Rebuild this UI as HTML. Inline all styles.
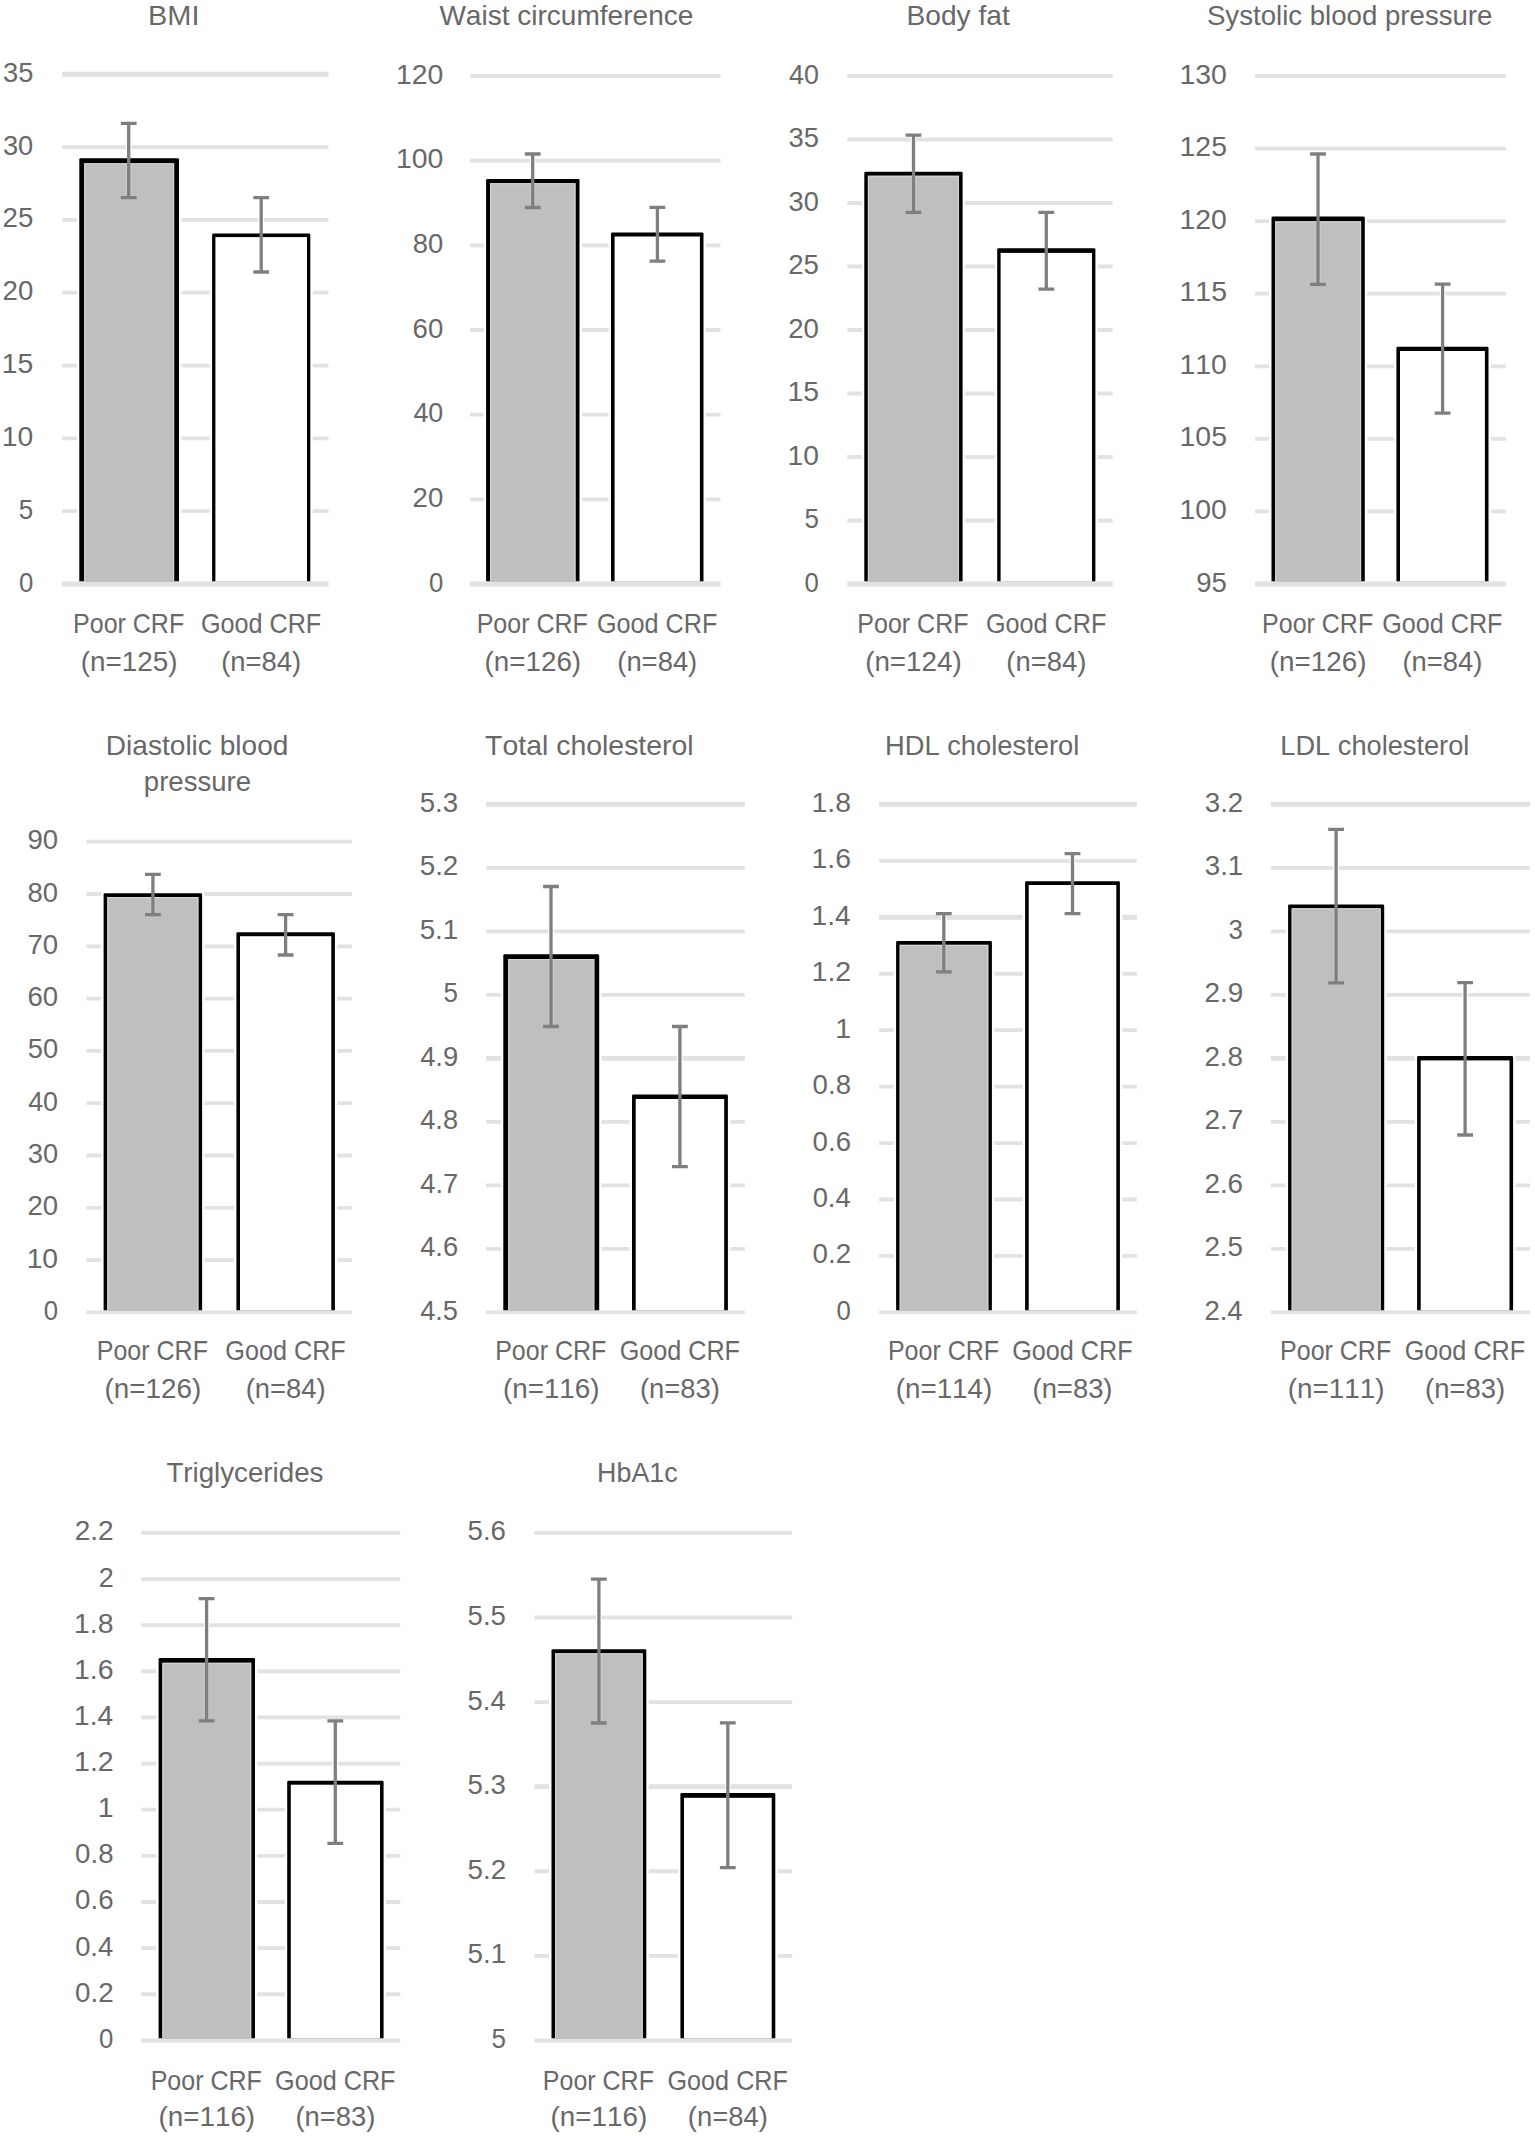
<!DOCTYPE html>
<html lang="en"><head><meta charset="utf-8"><title>Cardiometabolic risk factors by CRF group</title>
<style>
html,body{margin:0;padding:0;background:#fff}
svg{display:block}
text{font-family:"Liberation Sans",sans-serif;font-size:28px;fill:#686868;font-kerning:none}
.g{stroke:#e2e2e2;fill:none}
.e{stroke:#7f7f7f;stroke-width:3.3;fill:none}
.h{stroke:#fff;stroke-width:5.6;fill:none}
.w{fill:#fff}
.r{stroke:#d6d6d6;stroke-width:1.1;fill:none}
.f{stroke:#fff;stroke-opacity:.13;stroke-width:6;fill:none}
.k{fill:#000}
</style></head><body>
<svg width="1535" height="2136" viewBox="0 0 1535 2136">
<rect width="1535" height="2136" fill="#fff"/>
<g>
<line class="g" x1="62" x2="328.5" y1="511.18" y2="511.18" stroke-width="3.8"/>
<line class="g" x1="62" x2="328.5" y1="438.36" y2="438.36" stroke-width="3.8"/>
<line class="g" x1="62" x2="328.5" y1="365.54" y2="365.54" stroke-width="3.8"/>
<line class="g" x1="62" x2="328.5" y1="292.71" y2="292.71" stroke-width="3.8"/>
<line class="g" x1="62" x2="328.5" y1="219.89" y2="219.89" stroke-width="3.8"/>
<line class="g" x1="62" x2="328.5" y1="147.07" y2="147.07" stroke-width="3.8"/>
<line class="g" x1="62" x2="328.5" y1="74.25" y2="74.25" stroke-width="4.9"/>
<path class="h" d="M128.7 123.4 V197.7"/>
<path class="h" d="M261.2 197.6 V272"/>
<rect class="w" x="76.9" y="155.9" width="104.5" height="425.65"/>
<rect class="w" x="209.7" y="231.2" width="103" height="350.35"/>
<path class="k" d="M79.3 581.55 V159.6 Q79.3 158.3 80.6 158.3 H177.7 Q179 158.3 179 159.6 V581.55 Z"/>
<rect x="84.2" y="163.3" width="89.9" height="418.25" fill="#bfbfbf"/>
<path class="r" d="M84.7 581.55 V163.8 H173.6 V581.55"/>
<path class="k" d="M212.1 581.55 V234.9 Q212.1 233.6 213.4 233.6 H309 Q310.3 233.6 310.3 234.9 V581.55 Z"/>
<rect x="215.4" y="237.1" width="91.6" height="344.45" fill="#fff"/>
<line class="g" x1="62" x2="328.5" y1="584" y2="584" stroke-width="4.9"/>
<path class="f" d="M128.7 163.3 V197.7"/>
<path class="e" d="M128.7 123.4 V197.7 M120.8 123.4 H136.6 M120.8 197.7 H136.6"/>
<path class="e" d="M261.2 197.6 V272 M253.3 197.6 H269.1 M253.3 272 H269.1"/>
<text x="148.03" y="24.7" textLength="51.44" lengthAdjust="spacingAndGlyphs">BMI</text>
<text x="18.89" y="591.5" textLength="14.31" lengthAdjust="spacingAndGlyphs">0</text>
<text x="18.86" y="518.68" textLength="14.43" lengthAdjust="spacingAndGlyphs">5</text>
<text x="1.85" y="445.86" textLength="31.46" lengthAdjust="spacingAndGlyphs">10</text>
<text x="1.84" y="373.04" textLength="31.55" lengthAdjust="spacingAndGlyphs">15</text>
<text x="2.61" y="300.21" textLength="30.66" lengthAdjust="spacingAndGlyphs">20</text>
<text x="2.61" y="227.39" textLength="30.75" lengthAdjust="spacingAndGlyphs">25</text>
<text x="2.96" y="154.57" textLength="30.3" lengthAdjust="spacingAndGlyphs">30</text>
<text x="2.96" y="81.75" textLength="30.39" lengthAdjust="spacingAndGlyphs">35</text>
<text x="73.05" y="632.7" textLength="111.15" lengthAdjust="spacingAndGlyphs">Poor CRF</text>
<text x="80.83" y="670.6" textLength="96.65" lengthAdjust="spacingAndGlyphs">(n=125)</text>
<text x="200.88" y="632.7" textLength="120.38" lengthAdjust="spacingAndGlyphs">Good CRF</text>
<text x="221.2" y="670.6" textLength="80" lengthAdjust="spacingAndGlyphs">(n=84)</text>
</g>
<g>
<line class="g" x1="470" x2="720.5" y1="499.33" y2="499.33" stroke-width="3.8"/>
<line class="g" x1="470" x2="720.5" y1="414.67" y2="414.67" stroke-width="3.8"/>
<line class="g" x1="470" x2="720.5" y1="330" y2="330" stroke-width="3.8"/>
<line class="g" x1="470" x2="720.5" y1="245.33" y2="245.33" stroke-width="3.8"/>
<line class="g" x1="470" x2="720.5" y1="160.67" y2="160.67" stroke-width="3.8"/>
<line class="g" x1="470" x2="720.5" y1="76" y2="76" stroke-width="3.8"/>
<path class="h" d="M532.7 154 V207.5"/>
<path class="h" d="M657.4 207.3 V261.1"/>
<rect class="w" x="483.7" y="176.6" width="98.2" height="404.95"/>
<rect class="w" x="608.6" y="230.1" width="97.3" height="351.45"/>
<path class="k" d="M486.1 581.55 V180.3 Q486.1 179 487.4 179 H578.2 Q579.5 179 579.5 180.3 V581.55 Z"/>
<rect x="490.1" y="183.2" width="85.4" height="398.35" fill="#bfbfbf"/>
<path class="r" d="M490.6 581.55 V183.7 H575 V581.55"/>
<path class="k" d="M611 581.55 V233.8 Q611 232.5 612.3 232.5 H702.2 Q703.5 232.5 703.5 233.8 V581.55 Z"/>
<rect x="614.6" y="236.5" width="85.3" height="345.05" fill="#fff"/>
<line class="g" x1="470" x2="720.5" y1="584" y2="584" stroke-width="4.9"/>
<path class="f" d="M532.7 183.2 V207.5"/>
<path class="e" d="M532.7 154 V207.5 M524.8 154 H540.6 M524.8 207.5 H540.6"/>
<path class="e" d="M657.4 207.3 V261.1 M649.5 207.3 H665.3 M649.5 261.1 H665.3"/>
<text x="439.38" y="24.8" textLength="253.97" lengthAdjust="spacingAndGlyphs">Waist circumference</text>
<text x="428.89" y="591.5" textLength="14.31" lengthAdjust="spacingAndGlyphs">0</text>
<text x="412.61" y="506.83" textLength="30.66" lengthAdjust="spacingAndGlyphs">20</text>
<text x="413.38" y="422.17" textLength="29.86" lengthAdjust="spacingAndGlyphs">40</text>
<text x="412.6" y="337.5" textLength="30.68" lengthAdjust="spacingAndGlyphs">60</text>
<text x="412.81" y="252.83" textLength="30.46" lengthAdjust="spacingAndGlyphs">80</text>
<text x="395.94" y="168.17" textLength="47.37" lengthAdjust="spacingAndGlyphs">100</text>
<text x="395.94" y="83.5" textLength="47.37" lengthAdjust="spacingAndGlyphs">120</text>
<text x="476.7" y="632.7" textLength="111.15" lengthAdjust="spacingAndGlyphs">Poor CRF</text>
<text x="484.48" y="670.6" textLength="96.65" lengthAdjust="spacingAndGlyphs">(n=126)</text>
<text x="596.93" y="632.7" textLength="120.38" lengthAdjust="spacingAndGlyphs">Good CRF</text>
<text x="617.25" y="670.6" textLength="80" lengthAdjust="spacingAndGlyphs">(n=84)</text>
</g>
<g>
<line class="g" x1="847.3" x2="1112.7" y1="520.5" y2="520.5" stroke-width="3.8"/>
<line class="g" x1="847.3" x2="1112.7" y1="457" y2="457" stroke-width="3.8"/>
<line class="g" x1="847.3" x2="1112.7" y1="393.5" y2="393.5" stroke-width="3.8"/>
<line class="g" x1="847.3" x2="1112.7" y1="330" y2="330" stroke-width="3.8"/>
<line class="g" x1="847.3" x2="1112.7" y1="266.5" y2="266.5" stroke-width="3.8"/>
<line class="g" x1="847.3" x2="1112.7" y1="203" y2="203" stroke-width="3.8"/>
<line class="g" x1="847.3" x2="1112.7" y1="139.5" y2="139.5" stroke-width="3.8"/>
<line class="g" x1="847.3" x2="1112.7" y1="76" y2="76" stroke-width="3.8"/>
<path class="h" d="M913.5 135.2 V212.4"/>
<path class="h" d="M1046.3 212.4 V289.2"/>
<rect class="w" x="861.9" y="169.3" width="103.1" height="412.25"/>
<rect class="w" x="994.8" y="245.9" width="103" height="335.65"/>
<path class="k" d="M864.3 581.55 V173 Q864.3 171.7 865.6 171.7 H961.3 Q962.6 171.7 962.6 173 V581.55 Z"/>
<rect x="867.9" y="175.7" width="91.1" height="405.85" fill="#bfbfbf"/>
<path class="r" d="M868.4 581.55 V176.2 H958.5 V581.55"/>
<path class="k" d="M997.2 581.55 V249.6 Q997.2 248.3 998.5 248.3 H1094.1 Q1095.4 248.3 1095.4 249.6 V581.55 Z"/>
<rect x="1000.6" y="252.9" width="91.4" height="328.65" fill="#fff"/>
<line class="g" x1="847.3" x2="1112.7" y1="584" y2="584" stroke-width="4.9"/>
<path class="f" d="M913.5 175.7 V212.4"/>
<path class="e" d="M913.5 135.2 V212.4 M905.6 135.2 H921.4 M905.6 212.4 H921.4"/>
<path class="e" d="M1046.3 212.4 V289.2 M1038.4 212.4 H1054.2 M1038.4 289.2 H1054.2"/>
<text x="906.49" y="24.7" textLength="103.21" lengthAdjust="spacingAndGlyphs">Body fat</text>
<text x="804.49" y="591.5" textLength="14.31" lengthAdjust="spacingAndGlyphs">0</text>
<text x="804.46" y="528" textLength="14.43" lengthAdjust="spacingAndGlyphs">5</text>
<text x="787.45" y="464.5" textLength="31.46" lengthAdjust="spacingAndGlyphs">10</text>
<text x="787.44" y="401" textLength="31.55" lengthAdjust="spacingAndGlyphs">15</text>
<text x="788.21" y="337.5" textLength="30.66" lengthAdjust="spacingAndGlyphs">20</text>
<text x="788.21" y="274" textLength="30.75" lengthAdjust="spacingAndGlyphs">25</text>
<text x="788.56" y="210.5" textLength="30.3" lengthAdjust="spacingAndGlyphs">30</text>
<text x="788.56" y="147" textLength="30.39" lengthAdjust="spacingAndGlyphs">35</text>
<text x="788.98" y="83.5" textLength="29.86" lengthAdjust="spacingAndGlyphs">40</text>
<text x="857.35" y="632.7" textLength="111.15" lengthAdjust="spacingAndGlyphs">Poor CRF</text>
<text x="865.13" y="670.6" textLength="96.65" lengthAdjust="spacingAndGlyphs">(n=124)</text>
<text x="985.98" y="632.7" textLength="120.38" lengthAdjust="spacingAndGlyphs">Good CRF</text>
<text x="1006.3" y="670.6" textLength="80" lengthAdjust="spacingAndGlyphs">(n=84)</text>
</g>
<g>
<line class="g" x1="1255" x2="1505.9" y1="511.43" y2="511.43" stroke-width="3.8"/>
<line class="g" x1="1255" x2="1505.9" y1="438.86" y2="438.86" stroke-width="3.8"/>
<line class="g" x1="1255" x2="1505.9" y1="366.29" y2="366.29" stroke-width="3.8"/>
<line class="g" x1="1255" x2="1505.9" y1="293.71" y2="293.71" stroke-width="3.8"/>
<line class="g" x1="1255" x2="1505.9" y1="221.14" y2="221.14" stroke-width="3.8"/>
<line class="g" x1="1255" x2="1505.9" y1="148.57" y2="148.57" stroke-width="3.8"/>
<line class="g" x1="1255" x2="1505.9" y1="76" y2="76" stroke-width="3.8"/>
<path class="h" d="M1318 154 V284.3"/>
<path class="h" d="M1442.6 284.1 V413.1"/>
<rect class="w" x="1269.1" y="214" width="98.1" height="367.55"/>
<rect class="w" x="1394" y="344.4" width="96.9" height="237.15"/>
<path class="k" d="M1271.5 581.55 V217.7 Q1271.5 216.4 1272.8 216.4 H1363.5 Q1364.8 216.4 1364.8 217.7 V581.55 Z"/>
<rect x="1275.2" y="221.4" width="85.9" height="360.15" fill="#bfbfbf"/>
<path class="r" d="M1275.7 581.55 V221.9 H1360.6 V581.55"/>
<path class="k" d="M1396.4 581.55 V348.1 Q1396.4 346.8 1397.7 346.8 H1487.2 Q1488.5 346.8 1488.5 348.1 V581.55 Z"/>
<rect x="1400" y="351" width="84.9" height="230.55" fill="#fff"/>
<line class="g" x1="1255" x2="1505.9" y1="584" y2="584" stroke-width="4.9"/>
<path class="f" d="M1318 221.4 V284.3"/>
<path class="e" d="M1318 154 V284.3 M1310.1 154 H1325.9 M1310.1 284.3 H1325.9"/>
<path class="e" d="M1442.6 284.1 V413.1 M1434.7 284.1 H1450.5 M1434.7 413.1 H1450.5"/>
<text x="1206.95" y="24.8" textLength="285.48" lengthAdjust="spacingAndGlyphs">Systolic blood pressure</text>
<text x="1196.31" y="591.5" textLength="30.65" lengthAdjust="spacingAndGlyphs">95</text>
<text x="1179.54" y="518.93" textLength="47.37" lengthAdjust="spacingAndGlyphs">100</text>
<text x="1179.53" y="446.36" textLength="47.46" lengthAdjust="spacingAndGlyphs">105</text>
<text x="1179.54" y="373.79" textLength="47.37" lengthAdjust="spacingAndGlyphs">110</text>
<text x="1179.53" y="301.21" textLength="47.46" lengthAdjust="spacingAndGlyphs">115</text>
<text x="1179.54" y="228.64" textLength="47.37" lengthAdjust="spacingAndGlyphs">120</text>
<text x="1179.53" y="156.07" textLength="47.46" lengthAdjust="spacingAndGlyphs">125</text>
<text x="1179.54" y="83.5" textLength="47.37" lengthAdjust="spacingAndGlyphs">130</text>
<text x="1262.05" y="632.7" textLength="111.15" lengthAdjust="spacingAndGlyphs">Poor CRF</text>
<text x="1269.83" y="670.6" textLength="96.65" lengthAdjust="spacingAndGlyphs">(n=126)</text>
<text x="1382.13" y="632.7" textLength="120.38" lengthAdjust="spacingAndGlyphs">Good CRF</text>
<text x="1402.45" y="670.6" textLength="80" lengthAdjust="spacingAndGlyphs">(n=84)</text>
</g>
<g>
<line class="g" x1="86.5" x2="351.9" y1="1260.1" y2="1260.1" stroke-width="3.8"/>
<line class="g" x1="86.5" x2="351.9" y1="1207.8" y2="1207.8" stroke-width="3.8"/>
<line class="g" x1="86.5" x2="351.9" y1="1155.5" y2="1155.5" stroke-width="3.8"/>
<line class="g" x1="86.5" x2="351.9" y1="1103.2" y2="1103.2" stroke-width="3.8"/>
<line class="g" x1="86.5" x2="351.9" y1="1050.9" y2="1050.9" stroke-width="3.8"/>
<line class="g" x1="86.5" x2="351.9" y1="998.6" y2="998.6" stroke-width="3.8"/>
<line class="g" x1="86.5" x2="351.9" y1="946.3" y2="946.3" stroke-width="3.8"/>
<line class="g" x1="86.5" x2="351.9" y1="894" y2="894" stroke-width="3.8"/>
<line class="g" x1="86.5" x2="351.9" y1="841.7" y2="841.7" stroke-width="3.8"/>
<path class="h" d="M152.9 874.3 V914.6"/>
<path class="h" d="M285.6 914.6 V955"/>
<rect class="w" x="101.2" y="890.9" width="103.3" height="419.6"/>
<rect class="w" x="234" y="929.8" width="103.3" height="380.7"/>
<path class="k" d="M103.6 1310.5 V894.6 Q103.6 893.3 104.9 893.3 H200.8 Q202.1 893.3 202.1 894.6 V1310.5 Z"/>
<rect x="107.3" y="897.1" width="91.1" height="413.4" fill="#bfbfbf"/>
<path class="r" d="M107.8 1310.5 V897.6 H197.9 V1310.5"/>
<path class="k" d="M236.4 1310.5 V933.5 Q236.4 932.2 237.7 932.2 H333.6 Q334.9 932.2 334.9 933.5 V1310.5 Z"/>
<rect x="240" y="936.2" width="91.3" height="374.3" fill="#fff"/>
<line class="g" x1="86.5" x2="351.9" y1="1312.4" y2="1312.4" stroke-width="3.8"/>
<path class="f" d="M152.9 897.1 V914.6"/>
<path class="e" d="M152.9 874.3 V914.6 M145 874.3 H160.8 M145 914.6 H160.8"/>
<path class="e" d="M285.6 914.6 V955 M277.7 914.6 H293.5 M277.7 955 H293.5"/>
<text x="105.8" y="754.7" textLength="182.61" lengthAdjust="spacingAndGlyphs">Diastolic blood</text>
<text x="143.82" y="791" textLength="107.2" lengthAdjust="spacingAndGlyphs">pressure</text>
<text x="43.69" y="1319.9" textLength="14.31" lengthAdjust="spacingAndGlyphs">0</text>
<text x="26.65" y="1267.6" textLength="31.46" lengthAdjust="spacingAndGlyphs">10</text>
<text x="27.41" y="1215.3" textLength="30.66" lengthAdjust="spacingAndGlyphs">20</text>
<text x="27.76" y="1163" textLength="30.3" lengthAdjust="spacingAndGlyphs">30</text>
<text x="28.18" y="1110.7" textLength="29.86" lengthAdjust="spacingAndGlyphs">40</text>
<text x="27.71" y="1058.4" textLength="30.36" lengthAdjust="spacingAndGlyphs">50</text>
<text x="27.4" y="1006.1" textLength="30.68" lengthAdjust="spacingAndGlyphs">60</text>
<text x="27.39" y="953.8" textLength="30.69" lengthAdjust="spacingAndGlyphs">70</text>
<text x="27.61" y="901.5" textLength="30.46" lengthAdjust="spacingAndGlyphs">80</text>
<text x="27.51" y="849.2" textLength="30.56" lengthAdjust="spacingAndGlyphs">90</text>
<text x="96.75" y="1360.2" textLength="111.15" lengthAdjust="spacingAndGlyphs">Poor CRF</text>
<text x="104.53" y="1398.4" textLength="96.65" lengthAdjust="spacingAndGlyphs">(n=126)</text>
<text x="225.33" y="1360.2" textLength="120.38" lengthAdjust="spacingAndGlyphs">Good CRF</text>
<text x="245.65" y="1398.4" textLength="80" lengthAdjust="spacingAndGlyphs">(n=84)</text>
</g>
<g>
<line class="g" x1="486" x2="744.9" y1="1248.9" y2="1248.9" stroke-width="3.8"/>
<line class="g" x1="486" x2="744.9" y1="1185.4" y2="1185.4" stroke-width="3.8"/>
<line class="g" x1="486" x2="744.9" y1="1121.9" y2="1121.9" stroke-width="3.8"/>
<line class="g" x1="486" x2="744.9" y1="1058.4" y2="1058.4" stroke-width="4.9"/>
<line class="g" x1="486" x2="744.9" y1="994.9" y2="994.9" stroke-width="3.8"/>
<line class="g" x1="486" x2="744.9" y1="931.4" y2="931.4" stroke-width="3.8"/>
<line class="g" x1="486" x2="744.9" y1="867.9" y2="867.9" stroke-width="3.8"/>
<line class="g" x1="486" x2="744.9" y1="804.4" y2="804.4" stroke-width="4.9"/>
<path class="h" d="M551 886.5 V1026.5"/>
<path class="h" d="M679.9 1026.5 V1166.6"/>
<rect class="w" x="500.9" y="951.8" width="100.7" height="358.7"/>
<rect class="w" x="629.6" y="1092" width="100.7" height="218.5"/>
<path class="k" d="M503.3 1310.5 V955.5 Q503.3 954.2 504.6 954.2 H597.9 Q599.2 954.2 599.2 955.5 V1310.5 Z"/>
<rect x="508.2" y="959" width="86.1" height="351.5" fill="#bfbfbf"/>
<path class="r" d="M508.7 1310.5 V959.5 H593.8 V1310.5"/>
<path class="k" d="M632 1310.5 V1095.7 Q632 1094.4 633.3 1094.4 H726.6 Q727.9 1094.4 727.9 1095.7 V1310.5 Z"/>
<rect x="635.7" y="1099" width="88.5" height="211.5" fill="#fff"/>
<line class="g" x1="486" x2="744.9" y1="1312.4" y2="1312.4" stroke-width="3.8"/>
<path class="f" d="M551 959 V1026.5"/>
<path class="e" d="M551 886.5 V1026.5 M543.1 886.5 H558.9 M543.1 1026.5 H558.9"/>
<path class="e" d="M679.9 1026.5 V1166.6 M672 1026.5 H687.8 M672 1166.6 H687.8"/>
<text x="485.06" y="754.7" textLength="208.64" lengthAdjust="spacingAndGlyphs">Total cholesterol</text>
<text x="420.17" y="1319.9" textLength="37.87" lengthAdjust="spacingAndGlyphs">4.5</text>
<text x="420.17" y="1256.4" textLength="37.92" lengthAdjust="spacingAndGlyphs">4.6</text>
<text x="420.17" y="1192.9" textLength="38.11" lengthAdjust="spacingAndGlyphs">4.7</text>
<text x="420.17" y="1129.4" textLength="37.91" lengthAdjust="spacingAndGlyphs">4.8</text>
<text x="420.17" y="1065.9" textLength="38.02" lengthAdjust="spacingAndGlyphs">4.9</text>
<text x="443.56" y="1002.4" textLength="14.43" lengthAdjust="spacingAndGlyphs">5</text>
<text x="419.69" y="938.9" textLength="38.57" lengthAdjust="spacingAndGlyphs">5.1</text>
<text x="419.69" y="875.4" textLength="38.61" lengthAdjust="spacingAndGlyphs">5.2</text>
<text x="419.69" y="811.9" textLength="38.42" lengthAdjust="spacingAndGlyphs">5.3</text>
<text x="495.15" y="1360.2" textLength="111.15" lengthAdjust="spacingAndGlyphs">Poor CRF</text>
<text x="502.93" y="1398.4" textLength="96.65" lengthAdjust="spacingAndGlyphs">(n=116)</text>
<text x="619.63" y="1360.2" textLength="120.38" lengthAdjust="spacingAndGlyphs">Good CRF</text>
<text x="639.95" y="1398.4" textLength="80" lengthAdjust="spacingAndGlyphs">(n=83)</text>
</g>
<g>
<line class="g" x1="879.1" x2="1136.9" y1="1255.96" y2="1255.96" stroke-width="3.8"/>
<line class="g" x1="879.1" x2="1136.9" y1="1199.51" y2="1199.51" stroke-width="3.8"/>
<line class="g" x1="879.1" x2="1136.9" y1="1143.07" y2="1143.07" stroke-width="3.8"/>
<line class="g" x1="879.1" x2="1136.9" y1="1086.62" y2="1086.62" stroke-width="3.8"/>
<line class="g" x1="879.1" x2="1136.9" y1="1030.18" y2="1030.18" stroke-width="3.8"/>
<line class="g" x1="879.1" x2="1136.9" y1="973.73" y2="973.73" stroke-width="3.8"/>
<line class="g" x1="879.1" x2="1136.9" y1="917.29" y2="917.29" stroke-width="4.9"/>
<line class="g" x1="879.1" x2="1136.9" y1="860.84" y2="860.84" stroke-width="3.8"/>
<line class="g" x1="879.1" x2="1136.9" y1="804.4" y2="804.4" stroke-width="4.9"/>
<path class="h" d="M943.8 913.6 V971.9"/>
<path class="h" d="M1072.5 853.7 V913.6"/>
<rect class="w" x="893.7" y="938.5" width="100.6" height="372"/>
<rect class="w" x="1022.7" y="878.9" width="99.6" height="431.6"/>
<path class="k" d="M896.1 1310.5 V942.2 Q896.1 940.9 897.4 940.9 H990.6 Q991.9 940.9 991.9 942.2 V1310.5 Z"/>
<rect x="899.7" y="944.9" width="88.6" height="365.6" fill="#bfbfbf"/>
<path class="r" d="M900.2 1310.5 V945.4 H987.8 V1310.5"/>
<path class="k" d="M1025.1 1310.5 V882.6 Q1025.1 881.3 1026.4 881.3 H1118.6 Q1119.9 881.3 1119.9 882.6 V1310.5 Z"/>
<rect x="1028.7" y="885" width="87.6" height="425.5" fill="#fff"/>
<line class="g" x1="879.1" x2="1136.9" y1="1312.4" y2="1312.4" stroke-width="3.8"/>
<path class="f" d="M943.8 944.9 V971.9"/>
<path class="e" d="M943.8 913.6 V971.9 M935.9 913.6 H951.7 M935.9 971.9 H951.7"/>
<path class="e" d="M1072.5 853.7 V913.6 M1064.6 853.7 H1080.4 M1064.6 913.6 H1080.4"/>
<text x="884.96" y="754.7" textLength="194.37" lengthAdjust="spacingAndGlyphs">HDL cholesterol</text>
<text x="836.49" y="1319.9" textLength="14.31" lengthAdjust="spacingAndGlyphs">0</text>
<text x="812.62" y="1263.46" textLength="38.58" lengthAdjust="spacingAndGlyphs">0.2</text>
<text x="812.63" y="1207.01" textLength="37.97" lengthAdjust="spacingAndGlyphs">0.4</text>
<text x="812.62" y="1150.57" textLength="38.39" lengthAdjust="spacingAndGlyphs">0.6</text>
<text x="812.62" y="1094.12" textLength="38.38" lengthAdjust="spacingAndGlyphs">0.8</text>
<text x="835.33" y="1037.68" textLength="15.87" lengthAdjust="spacingAndGlyphs">1</text>
<text x="811.52" y="981.23" textLength="39.71" lengthAdjust="spacingAndGlyphs">1.2</text>
<text x="811.56" y="924.79" textLength="39.06" lengthAdjust="spacingAndGlyphs">1.4</text>
<text x="811.53" y="868.34" textLength="39.51" lengthAdjust="spacingAndGlyphs">1.6</text>
<text x="811.54" y="811.9" textLength="39.5" lengthAdjust="spacingAndGlyphs">1.8</text>
<text x="887.9" y="1360.2" textLength="111.15" lengthAdjust="spacingAndGlyphs">Poor CRF</text>
<text x="895.68" y="1398.4" textLength="96.65" lengthAdjust="spacingAndGlyphs">(n=114)</text>
<text x="1012.18" y="1360.2" textLength="120.38" lengthAdjust="spacingAndGlyphs">Good CRF</text>
<text x="1032.5" y="1398.4" textLength="80" lengthAdjust="spacingAndGlyphs">(n=83)</text>
</g>
<g>
<line class="g" x1="1270.9" x2="1530" y1="1248.89" y2="1248.89" stroke-width="3.8"/>
<line class="g" x1="1270.9" x2="1530" y1="1185.38" y2="1185.38" stroke-width="3.8"/>
<line class="g" x1="1270.9" x2="1530" y1="1121.86" y2="1121.86" stroke-width="3.8"/>
<line class="g" x1="1270.9" x2="1530" y1="1058.35" y2="1058.35" stroke-width="4.9"/>
<line class="g" x1="1270.9" x2="1530" y1="994.84" y2="994.84" stroke-width="3.8"/>
<line class="g" x1="1270.9" x2="1530" y1="931.33" y2="931.33" stroke-width="3.8"/>
<line class="g" x1="1270.9" x2="1530" y1="867.81" y2="867.81" stroke-width="3.8"/>
<line class="g" x1="1270.9" x2="1530" y1="804.3" y2="804.3" stroke-width="4.9"/>
<path class="h" d="M1336.1 829.3 V982.8"/>
<path class="h" d="M1465.1 982.6 V1135"/>
<rect class="w" x="1285.7" y="902" width="100.9" height="408.5"/>
<rect class="w" x="1414.7" y="1053.7" width="100.8" height="256.8"/>
<path class="k" d="M1288.1 1310.5 V905.7 Q1288.1 904.4 1289.4 904.4 H1382.9 Q1384.2 904.4 1384.2 905.7 V1310.5 Z"/>
<rect x="1291.7" y="908.3" width="88.9" height="402.2" fill="#bfbfbf"/>
<path class="r" d="M1292.2 1310.5 V908.8 H1380.1 V1310.5"/>
<path class="k" d="M1417.1 1310.5 V1057.4 Q1417.1 1056.1 1418.4 1056.1 H1511.8 Q1513.1 1056.1 1513.1 1057.4 V1310.5 Z"/>
<rect x="1420.7" y="1060.4" width="88.8" height="250.1" fill="#fff"/>
<line class="g" x1="1270.9" x2="1530" y1="1312.4" y2="1312.4" stroke-width="3.8"/>
<path class="f" d="M1336.1 908.3 V982.8"/>
<path class="e" d="M1336.1 829.3 V982.8 M1328.2 829.3 H1344 M1328.2 982.8 H1344"/>
<path class="e" d="M1465.1 982.6 V1135 M1457.2 982.6 H1473 M1457.2 1135 H1473"/>
<text x="1280.37" y="754.7" textLength="188.95" lengthAdjust="spacingAndGlyphs">LDL cholesterol</text>
<text x="1204.41" y="1319.9" textLength="38.29" lengthAdjust="spacingAndGlyphs">2.4</text>
<text x="1204.4" y="1256.39" textLength="38.67" lengthAdjust="spacingAndGlyphs">2.5</text>
<text x="1204.4" y="1192.88" textLength="38.73" lengthAdjust="spacingAndGlyphs">2.6</text>
<text x="1204.39" y="1129.36" textLength="38.92" lengthAdjust="spacingAndGlyphs">2.7</text>
<text x="1204.4" y="1065.85" textLength="38.71" lengthAdjust="spacingAndGlyphs">2.8</text>
<text x="1204.4" y="1002.34" textLength="38.83" lengthAdjust="spacingAndGlyphs">2.9</text>
<text x="1228.61" y="938.83" textLength="14.43" lengthAdjust="spacingAndGlyphs">3</text>
<text x="1204.74" y="875.31" textLength="38.51" lengthAdjust="spacingAndGlyphs">3.1</text>
<text x="1204.74" y="811.8" textLength="38.55" lengthAdjust="spacingAndGlyphs">3.2</text>
<text x="1280.05" y="1360.2" textLength="111.15" lengthAdjust="spacingAndGlyphs">Poor CRF</text>
<text x="1287.83" y="1398.4" textLength="96.65" lengthAdjust="spacingAndGlyphs">(n=111)</text>
<text x="1404.78" y="1360.2" textLength="120.38" lengthAdjust="spacingAndGlyphs">Good CRF</text>
<text x="1425.1" y="1398.4" textLength="80" lengthAdjust="spacingAndGlyphs">(n=83)</text>
</g>
<g>
<line class="g" x1="141.3" x2="400.3" y1="1994.26" y2="1994.26" stroke-width="3.8"/>
<line class="g" x1="141.3" x2="400.3" y1="1948.13" y2="1948.13" stroke-width="3.8"/>
<line class="g" x1="141.3" x2="400.3" y1="1901.99" y2="1901.99" stroke-width="3.8"/>
<line class="g" x1="141.3" x2="400.3" y1="1855.85" y2="1855.85" stroke-width="3.8"/>
<line class="g" x1="141.3" x2="400.3" y1="1809.72" y2="1809.72" stroke-width="3.8"/>
<line class="g" x1="141.3" x2="400.3" y1="1763.58" y2="1763.58" stroke-width="3.8"/>
<line class="g" x1="141.3" x2="400.3" y1="1717.45" y2="1717.45" stroke-width="3.8"/>
<line class="g" x1="141.3" x2="400.3" y1="1671.31" y2="1671.31" stroke-width="3.8"/>
<line class="g" x1="141.3" x2="400.3" y1="1625.17" y2="1625.17" stroke-width="3.8"/>
<line class="g" x1="141.3" x2="400.3" y1="1579.04" y2="1579.04" stroke-width="3.8"/>
<line class="g" x1="141.3" x2="400.3" y1="1532.9" y2="1532.9" stroke-width="3.8"/>
<path class="h" d="M206.6 1598.6 V1720.8"/>
<path class="h" d="M335.3 1720.8 V1843.4"/>
<rect class="w" x="156.2" y="1655.5" width="101.2" height="382.9"/>
<rect class="w" x="284.8" y="1778.3" width="101.2" height="260.1"/>
<path class="k" d="M158.6 2038.4 V1659.2 Q158.6 1657.9 159.9 1657.9 H253.7 Q255 1657.9 255 1659.2 V2038.4 Z"/>
<rect x="162.4" y="1662.8" width="88.8" height="375.6" fill="#bfbfbf"/>
<path class="r" d="M162.9 2038.4 V1663.3 H250.7 V2038.4"/>
<path class="k" d="M287.2 2038.4 V1782 Q287.2 1780.7 288.5 1780.7 H382.3 Q383.6 1780.7 383.6 1782 V2038.4 Z"/>
<rect x="290.8" y="1784.7" width="89.2" height="253.7" fill="#fff"/>
<line class="g" x1="141.3" x2="400.3" y1="2040.4" y2="2040.4" stroke-width="4"/>
<path class="f" d="M206.6 1662.8 V1720.8"/>
<path class="e" d="M206.6 1598.6 V1720.8 M198.7 1598.6 H214.5 M198.7 1720.8 H214.5"/>
<path class="e" d="M335.3 1720.8 V1843.4 M327.4 1720.8 H343.2 M327.4 1843.4 H343.2"/>
<text x="166.38" y="1482" textLength="157.02" lengthAdjust="spacingAndGlyphs">Triglycerides</text>
<text x="98.99" y="2047.9" textLength="14.31" lengthAdjust="spacingAndGlyphs">0</text>
<text x="75.12" y="2001.76" textLength="38.58" lengthAdjust="spacingAndGlyphs">0.2</text>
<text x="75.13" y="1955.63" textLength="37.97" lengthAdjust="spacingAndGlyphs">0.4</text>
<text x="75.12" y="1909.49" textLength="38.39" lengthAdjust="spacingAndGlyphs">0.6</text>
<text x="75.12" y="1863.35" textLength="38.38" lengthAdjust="spacingAndGlyphs">0.8</text>
<text x="97.83" y="1817.22" textLength="15.87" lengthAdjust="spacingAndGlyphs">1</text>
<text x="74.02" y="1771.08" textLength="39.71" lengthAdjust="spacingAndGlyphs">1.2</text>
<text x="74.06" y="1724.95" textLength="39.06" lengthAdjust="spacingAndGlyphs">1.4</text>
<text x="74.03" y="1678.81" textLength="39.51" lengthAdjust="spacingAndGlyphs">1.6</text>
<text x="74.04" y="1632.67" textLength="39.5" lengthAdjust="spacingAndGlyphs">1.8</text>
<text x="98.64" y="1586.54" textLength="15.02" lengthAdjust="spacingAndGlyphs">2</text>
<text x="74.79" y="1540.4" textLength="38.92" lengthAdjust="spacingAndGlyphs">2.2</text>
<text x="150.7" y="2089.7" textLength="111.15" lengthAdjust="spacingAndGlyphs">Poor CRF</text>
<text x="158.48" y="2126.1" textLength="96.65" lengthAdjust="spacingAndGlyphs">(n=116)</text>
<text x="275.08" y="2089.7" textLength="120.38" lengthAdjust="spacingAndGlyphs">Good CRF</text>
<text x="295.4" y="2126.1" textLength="80" lengthAdjust="spacingAndGlyphs">(n=83)</text>
</g>
<g>
<line class="g" x1="534.5" x2="792.2" y1="1955.82" y2="1955.82" stroke-width="3.8"/>
<line class="g" x1="534.5" x2="792.2" y1="1871.23" y2="1871.23" stroke-width="3.8"/>
<line class="g" x1="534.5" x2="792.2" y1="1786.65" y2="1786.65" stroke-width="4.9"/>
<line class="g" x1="534.5" x2="792.2" y1="1702.07" y2="1702.07" stroke-width="3.8"/>
<line class="g" x1="534.5" x2="792.2" y1="1617.48" y2="1617.48" stroke-width="3.8"/>
<line class="g" x1="534.5" x2="792.2" y1="1532.9" y2="1532.9" stroke-width="3.8"/>
<path class="h" d="M598.9 1579.1 V1723"/>
<path class="h" d="M727.8 1722.8 V1867.7"/>
<rect class="w" x="549.1" y="1646.9" width="99.6" height="391.5"/>
<rect class="w" x="678" y="1790.5" width="99.7" height="247.9"/>
<path class="k" d="M551.5 2038.4 V1650.6 Q551.5 1649.3 552.8 1649.3 H645 Q646.3 1649.3 646.3 1650.6 V2038.4 Z"/>
<rect x="555.1" y="1653.3" width="87.6" height="385.1" fill="#bfbfbf"/>
<path class="r" d="M555.6 2038.4 V1653.8 H642.2 V2038.4"/>
<path class="k" d="M680.4 2038.4 V1794.2 Q680.4 1792.9 681.7 1792.9 H774 Q775.3 1792.9 775.3 1794.2 V2038.4 Z"/>
<rect x="684" y="1797.8" width="87.7" height="240.6" fill="#fff"/>
<line class="g" x1="534.5" x2="792.2" y1="2040.4" y2="2040.4" stroke-width="4"/>
<path class="f" d="M598.9 1653.3 V1723"/>
<path class="e" d="M598.9 1579.1 V1723 M591 1579.1 H606.8 M591 1723 H606.8"/>
<path class="e" d="M727.8 1722.8 V1867.7 M719.9 1722.8 H735.7 M719.9 1867.7 H735.7"/>
<text x="597.1" y="1482" textLength="80.51" lengthAdjust="spacingAndGlyphs">HbA1c</text>
<text x="491.46" y="2047.9" textLength="14.43" lengthAdjust="spacingAndGlyphs">5</text>
<text x="467.59" y="1963.32" textLength="38.57" lengthAdjust="spacingAndGlyphs">5.1</text>
<text x="467.59" y="1878.73" textLength="38.61" lengthAdjust="spacingAndGlyphs">5.2</text>
<text x="467.59" y="1794.15" textLength="38.42" lengthAdjust="spacingAndGlyphs">5.3</text>
<text x="467.61" y="1709.57" textLength="38" lengthAdjust="spacingAndGlyphs">5.4</text>
<text x="467.6" y="1624.98" textLength="38.36" lengthAdjust="spacingAndGlyphs">5.5</text>
<text x="467.59" y="1540.4" textLength="38.42" lengthAdjust="spacingAndGlyphs">5.6</text>
<text x="542.8" y="2089.7" textLength="111.15" lengthAdjust="spacingAndGlyphs">Poor CRF</text>
<text x="550.58" y="2126.1" textLength="96.65" lengthAdjust="spacingAndGlyphs">(n=116)</text>
<text x="667.53" y="2089.7" textLength="120.38" lengthAdjust="spacingAndGlyphs">Good CRF</text>
<text x="687.85" y="2126.1" textLength="80" lengthAdjust="spacingAndGlyphs">(n=84)</text>
</g>
</svg>
</body></html>
